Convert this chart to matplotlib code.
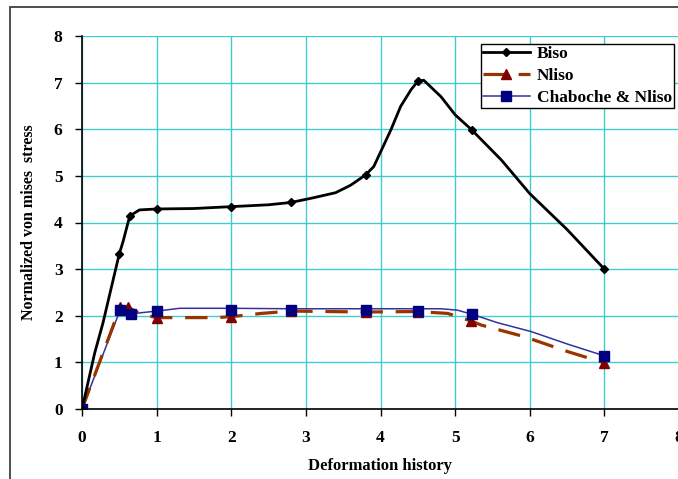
import matplotlib
matplotlib.use("Agg")
import matplotlib.pyplot as plt
from matplotlib.patches import Rectangle

# Biso curve (dense trace) and its marked points
biso_x = [0, 0.17, 0.28, 0.50, 0.55, 0.64, 0.77, 1.0, 1.5, 2.0, 2.5, 2.8, 3.1, 3.4,
          3.6, 3.8, 3.91, 4.14, 4.27, 4.41, 4.50, 4.58, 4.81, 5.0, 5.22, 5.62, 6.0, 6.5, 7.0]
biso_y = [0, 1.2, 1.84, 3.33, 3.59, 4.14, 4.27, 4.29, 4.30, 4.34, 4.38, 4.43, 4.53, 4.64,
          4.80, 5.02, 5.2, 5.99, 6.49, 6.85, 7.03, 7.05, 6.70, 6.31, 5.99, 5.34, 4.62, 3.85, 3.0]
biso_mx = [0, 0.50, 0.64, 1.0, 2.0, 2.8, 3.8, 4.5, 5.22, 7.0]
biso_my = [0, 3.33, 4.14, 4.29, 4.34, 4.43, 5.02, 7.03, 5.99, 3.0]

# Nliso
nliso_x = [0, 0.51, 0.62, 0.8, 1.0, 1.5, 1.8, 2.0, 2.4, 2.8, 3.3, 3.8, 4.5, 4.9,
           5.21, 5.35, 5.93, 6.51, 7.0]
nliso_y = [0, 2.18, 2.18, 2.03, 1.96, 1.96, 1.96, 1.98, 2.05, 2.10, 2.09, 2.08, 2.09, 2.05,
           1.89, 1.80, 1.55, 1.23, 0.99]
nliso_mx = [0, 0.51, 0.62, 1.0, 2.0, 2.8, 3.8, 4.5, 5.21, 7.0]
nliso_my = [0, 2.18, 2.18, 1.96, 1.98, 2.10, 2.08, 2.09, 1.89, 0.99]

# Chaboche & Nliso
chab_x = [0, 0.51, 0.65, 1.0, 1.31, 2.0, 2.8, 3.8, 4.5, 4.81, 5.03, 5.23, 5.57, 6.02, 6.51, 7.0]
chab_y = [0, 2.12, 2.04, 2.10, 2.16, 2.16, 2.15, 2.15, 2.15, 2.15, 2.12, 2.03, 1.85, 1.66, 1.39, 1.14]
chab_mx = [0, 0.51, 0.65, 1.0, 2.0, 2.8, 3.8, 4.5, 5.23, 7.0]
chab_my = [0, 2.12, 2.04, 2.10, 2.12, 2.12, 2.12, 2.11, 2.03, 1.14]

ticks = [0, 1, 2, 3, 4, 5, 6, 7, 8]


def main():
    plt.rcParams['font.family'] = ['Liberation Serif', 'DejaVu Serif']
    plt.rcParams['font.weight'] = 'bold'

    fig = plt.figure(figsize=(6.78, 4.79), dpi=100)
    ax = fig.add_axes([82 / 678, 1 - 409 / 479, 597 / 678, 373 / 479])

    # outer chart border (cut off at right and bottom)
    fig.patches.append(Rectangle((10 / 678, -0.1), 1.2, 1.1 - 7 / 479,
                                 transform=fig.transFigure, fill=False,
                                 edgecolor="#404040", linewidth=1.3))

    grid_c = "#40CCCC"
    ax.set_xlim(0, 8)
    ax.set_ylim(0, 8)
    ax.set_xticks(ticks)
    ax.set_yticks(ticks)
    ax.grid(True, color=grid_c, linewidth=1.0)
    ax.set_axisbelow(True)
    for s in ["top", "right"]:
        ax.spines[s].set_visible(False)
    for s in ["left", "bottom"]:
        ax.spines[s].set_linewidth(1.2)
    ax.tick_params(direction="out", length=5, width=1, labelsize=12.5)
    ax.tick_params(axis="x", pad=10)
    ax.tick_params(axis="y", pad=9)
    for lab in ax.get_xticklabels() + ax.get_yticklabels():
        lab.set_fontweight("bold")

    ax.plot(chab_x, chab_y, color="#333399", linewidth=1.1, zorder=3)
    ax.plot(nliso_x, nliso_y, color="#993300", linewidth=2.3,
            dashes=(7, 4), zorder=3)
    ax.plot(biso_x, biso_y, color="black", linewidth=2.0, zorder=4)

    ax.plot(nliso_mx, nliso_my, linestyle="none", marker="^", markersize=7,
            color="#800000", zorder=5)
    ax.plot(chab_mx, chab_my, linestyle="none", marker="s", markersize=7,
            color="#000080", zorder=6)
    ax.plot(biso_mx, biso_my, linestyle="none", marker="D", markersize=4.5,
            color="black", zorder=7)

    # legend proxies
    h1, = ax.plot([], [], color="black", linewidth=2.0, marker="D", markersize=4.5)
    h2, = ax.plot([], [], color="#993300", linewidth=2.3, dashes=(7, 4),
                  marker="^", markersize=7, markerfacecolor="#800000",
                  markeredgecolor="#800000")
    h3, = ax.plot([], [], color="#333399", linewidth=1.1, marker="s",
                  markersize=7, markerfacecolor="#000080", markeredgecolor="#000080")
    leg = ax.legend([h1, h2, h3], ["Biso", "Nliso", "Chaboche & Nliso"],
                    loc="upper right",
                    bbox_to_anchor=((674 - 82) / 597, (409 - 44) / 373),
                    bbox_transform=ax.transAxes, fancybox=False, framealpha=1,
                    edgecolor="black", handlelength=2.7, handletextpad=0.4,
                    borderpad=0.12, labelspacing=0.32, borderaxespad=0,
                    prop={"weight": "bold", "size": 12.5})
    leg.get_frame().set_linewidth(1.0)
    leg.set_zorder(10)

    ax.set_xlabel("Deformation history", fontsize=12, fontweight="bold", labelpad=9)
    ax.set_ylabel("Normalized von mises  stress", fontsize=11.5, fontweight="bold",
                  labelpad=12)

    fig.savefig("out.png", dpi=100)


if __name__ == "__main__":
    main()
